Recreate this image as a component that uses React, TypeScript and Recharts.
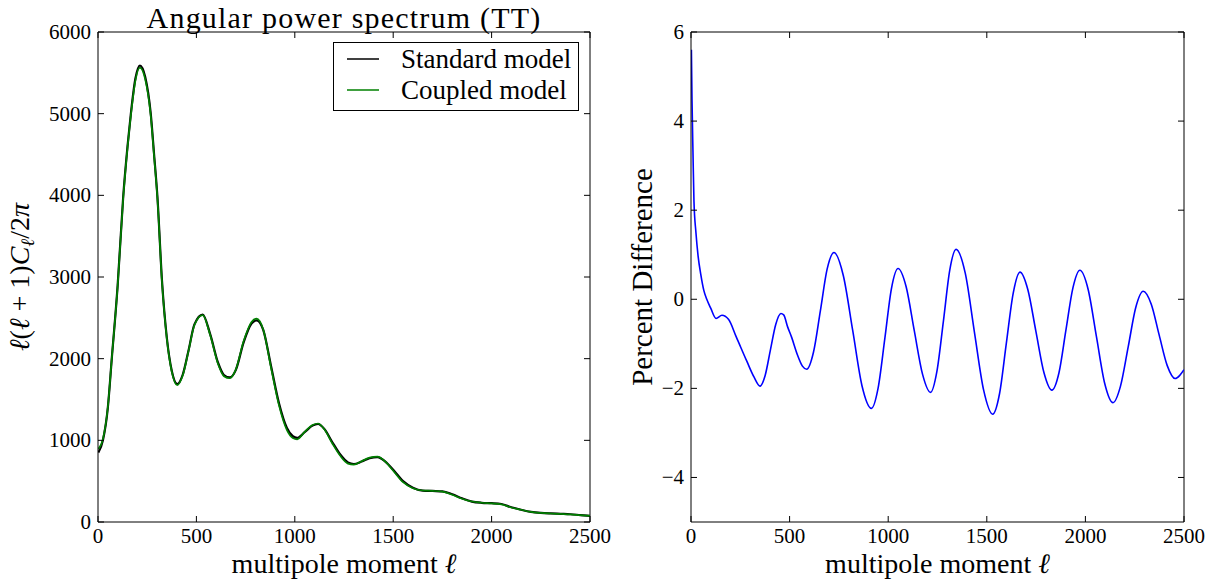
import React from 'react';
import { LineChart, Line, XAxis, YAxis, Legend, Label, ReferenceLine } from 'recharts';

// multipole moments sampled off the left panel
const ell = [
  2, 25, 50, 70, 100, 128, 150, 167, 190, 213, 240, 268, 285, 302, 325, 350, 375, 403, 430, 460,
  490, 532, 570, 610, 640, 670, 700, 740, 780, 806, 840, 880, 920, 960, 990, 1012, 1050, 1090, 1118, 1150,
  1190, 1230, 1270, 1300, 1340, 1380, 1420, 1460, 1500, 1550, 1600, 1650, 1700, 1750, 1800, 1850, 1900, 1950, 2000, 2050,
  2100, 2150, 2200, 2250, 2300, 2350, 2400, 2450, 2500,
];
const standardTT = [
  850, 1000, 1400, 2000, 2900, 3980, 4600, 5000, 5430, 5590, 5450, 5000, 4500, 3980, 2960, 2250, 1850, 1690, 1800, 2100,
  2420, 2540, 2300, 1950, 1800, 1770, 1860, 2200, 2430, 2470, 2350, 1900, 1450, 1150, 1050, 1030, 1100, 1180, 1200, 1140,
  980, 830, 730, 710, 740, 780, 795, 740, 640, 500, 420, 385, 380, 375, 340, 290, 250, 235, 230, 220,
  180, 150, 125, 112, 105, 100, 95, 85, 75,
];
const coupledTT = [
  895, 1015, 1405, 2000, 2895, 3965, 4585, 4980, 5405, 5565, 5420, 4975, 4480, 3960, 2945, 2240, 1840, 1675, 1790, 2095,
  2412, 2533, 2290, 1935, 1785, 1760, 1865, 2215, 2450, 2490, 2355, 1880, 1425, 1125, 1028, 1012, 1103, 1187, 1206, 1135,
  965, 813, 715, 702, 745, 788, 800, 738, 628, 487, 413, 386, 381, 371, 334, 285, 251, 236, 228, 216,
  178, 150, 123, 111, 104, 99, 94, 84, 74,
];

// right panel: percent difference
const ellDiff = [
  2, 5, 10, 15, 25, 36, 50, 65, 80, 100, 127, 157, 190, 230, 283, 320, 350, 376, 403, 430,
  456, 470, 490, 510, 540, 565, 587, 621, 656, 690, 725, 772, 820, 867, 915, 949, 983, 1016, 1050, 1091,
  1132, 1174, 1215, 1247, 1280, 1312, 1344, 1391, 1437, 1484, 1530, 1565, 1599, 1634, 1668, 1708, 1749, 1790, 1830, 1866,
  1901, 1937, 1972, 2014, 2056, 2098, 2140, 2178, 2217, 2255, 2293, 2334, 2374, 2415, 2455, 2480, 2500,
];
const percentDiff = [
  5.6, 4.5, 3.3, 2.2, 1.5, 0.97, 0.55, 0.2, 0.0, -0.2, -0.43, -0.36, -0.45, -0.85, -1.39, -1.75, -1.95, -1.71, -1.13, -0.56,
  -0.32, -0.35, -0.62, -0.85, -1.25, -1.5, -1.57, -1.19, -0.26, 0.67, 1.05, 0.54, -0.7, -1.94, -2.45, -1.99, -0.88, 0.23, 0.69, 0.28,
  -0.7, -1.68, -2.09, -1.62, -0.49, 0.65, 1.12, 0.58, -0.73, -2.04, -2.58, -2.11, -0.99, 0.14, 0.61, 0.22, -0.72, -1.65, -2.04, -1.65,
  -0.7, 0.26, 0.65, 0.22, -0.84, -1.89, -2.32, -1.95, -1.07, -0.19, 0.18, -0.11, -0.8, -1.49, -1.78, -1.7, -1.58,
];

const xTicks = [0, 500, 1000, 1500, 2000, 2500];
const ttTicks = [0, 1000, 2000, 3000, 4000, 5000, 6000];
const diffTicks = [-4, -2, 0, 2, 4, 6];

const spectrumData = ell.map((l, i) => ({ l, standard: standardTT[i], coupled: coupledTT[i] }));
const diffData = ellDiff.map((l, i) => ({ l, diff: percentDiff[i] }));

const FONT = '"Liberation Serif", "Times New Roman", serif';
const TICK_LEN = 6;
const PLOT_TOP = 32;
const fmt = (v: number) => (v < 0 ? '\u2212' + Math.abs(v) : String(v));

// matplotlib-style inward ticks, mirrored on the top / right frame
const BottomTick = ({ x, y, payload }: any) => (
  <g>
    <line x1={x} y1={y} x2={x} y2={y - TICK_LEN} stroke="#000" />
    <line x1={x} y1={PLOT_TOP} x2={x} y2={PLOT_TOP + TICK_LEN} stroke="#000" />
    <text x={x} y={y + 21} textAnchor="middle" fontSize={21} fontFamily={FONT} fill="#000">
      {fmt(payload.value)}
    </text>
  </g>
);
const makeLeftTick = (plotW: number) => ({ x, y, payload }: any) => (
  <g>
    <line x1={x} y1={y} x2={x + TICK_LEN} y2={y} stroke="#000" />
    <line x1={x + plotW} y1={y} x2={x + plotW - TICK_LEN} y2={y} stroke="#000" />
    <text x={x - 7} y={y + 7} textAnchor="end" fontSize={21} fontFamily={FONT} fill="#000">
      {fmt(payload.value)}
    </text>
  </g>
);
const LeftTickTT = makeLeftTick(492);
const LeftTickDiff = makeLeftTick(493);

const XLabel = ({ viewBox }: any) => (
  <text x={viewBox.x + viewBox.width / 2} y={viewBox.y + 51} textAnchor="middle" fontSize={28} fontFamily={FONT} fill="#000">
    multipole moment <tspan fontStyle="italic">ℓ</tspan>
  </text>
);

const Title = ({ viewBox }: any) => (
  <text
    x={viewBox.x + viewBox.width / 2}
    y={28}
    textAnchor="middle"
    fontSize={30}
    letterSpacing={1.2}
    fontFamily={FONT}
    fill="#000"
  >
    Angular power spectrum (TT)
  </text>
);

const TTLabel = () => (
  <text x={29} y={277} transform="rotate(-90, 29, 277)" textAnchor="middle" fontSize={28} fontFamily={FONT} fill="#000">
    <tspan fontStyle="italic">ℓ</tspan>(<tspan fontStyle="italic">ℓ</tspan> + 1)<tspan fontStyle="italic">C</tspan>
    <tspan fontStyle="italic" fontSize={19} dy={5}>ℓ</tspan>
    <tspan dy={-5}>/2</tspan>
    <tspan fontStyle="italic">π</tspan>
  </text>
);

const DiffLabel = () => (
  <text x={52} y={277} transform="rotate(-90, 52, 277)" textAnchor="middle" fontSize={29} fontFamily={FONT} fill="#000">
    Percent Difference
  </text>
);

const LegendBox = () => (
  <svg width={246} height={69} style={{ display: 'block' }}>
    <rect x={0.5} y={0.5} width={245} height={68} fill="#fff" stroke="#000" />
    <line x1={14} y1={17} x2={46} y2={17} stroke="#000" strokeWidth={1.5} />
    <text x={68} y={26} fontSize={27} fontFamily={FONT} fill="#000">Standard model</text>
    <line x1={14} y1={48} x2={46} y2={48} stroke="#008000" strokeWidth={1.5} />
    <text x={68} y={57} fontSize={27} fontFamily={FONT} fill="#000">Coupled model</text>
  </svg>
);

const xAxisProps = {
  dataKey: 'l',
  type: 'number' as const,
  domain: [0, 2500],
  ticks: xTicks,
  interval: 0,
  allowDataOverflow: true,
  height: 61,
  tickSize: 0,
  tickMargin: 0,
  tickLine: false,
  axisLine: { stroke: '#000' },
};

export default function App() {
  return (
    <div style={{ position: 'absolute', left: 0, top: 0, width: 1212, height: 583, background: '#fff' }}>
      <div style={{ position: 'absolute', left: 0, top: 0 }}>
        <LineChart width={620} height={583} data={spectrumData} margin={{ top: PLOT_TOP, right: 30, bottom: 0, left: 0 }}>
          <XAxis {...xAxisProps} tick={<BottomTick />}>
            <Label content={<XLabel />} />
            <Label content={<Title />} />
          </XAxis>
          <YAxis
            type="number"
            domain={[0, 6000]}
            ticks={ttTicks}
            interval={0}
            allowDataOverflow
            width={98}
            tickSize={0}
            tickMargin={0}
            tickLine={false}
            axisLine={{ stroke: '#000' }}
            tick={<LeftTickTT />}
          >
            <Label content={<TTLabel />} />
          </YAxis>
          <ReferenceLine y={6000} stroke="#000" ifOverflow="visible" />
          <ReferenceLine x={2500} stroke="#000" ifOverflow="visible" />
          <Line type="monotone" dataKey="standard" stroke="#000" strokeWidth={2.2} dot={false} isAnimationActive={false} />
          <Line type="monotone" dataKey="coupled" stroke="#008000" strokeWidth={1.7} dot={false} isAnimationActive={false} />
          <Legend
            layout="vertical"
            align="center"
            verticalAlign="middle"
            content={() => <LegendBox />}
            wrapperStyle={{ left: 333, top: 42, width: 246, height: 69 }}
          />
        </LineChart>
      </div>
      <div style={{ position: 'absolute', left: 600, top: 0 }}>
        <LineChart width={612} height={583} data={diffData} margin={{ top: PLOT_TOP, right: 28, bottom: 0, left: 0 }}>
          <XAxis {...xAxisProps} tick={<BottomTick />}>
            <Label content={<XLabel />} />
          </XAxis>
          <YAxis
            type="number"
            domain={[-5, 6]}
            ticks={diffTicks}
            interval={0}
            allowDataOverflow
            width={91}
            tickSize={0}
            tickMargin={0}
            tickLine={false}
            axisLine={{ stroke: '#000' }}
            tick={<LeftTickDiff />}
          >
            <Label content={<DiffLabel />} />
          </YAxis>
          <ReferenceLine y={6} stroke="#000" ifOverflow="visible" />
          <ReferenceLine x={2500} stroke="#000" ifOverflow="visible" />
          <Line type="monotone" dataKey="diff" stroke="#0000ff" strokeWidth={1.6} dot={false} isAnimationActive={false} />
        </LineChart>
      </div>
    </div>
  );
}
